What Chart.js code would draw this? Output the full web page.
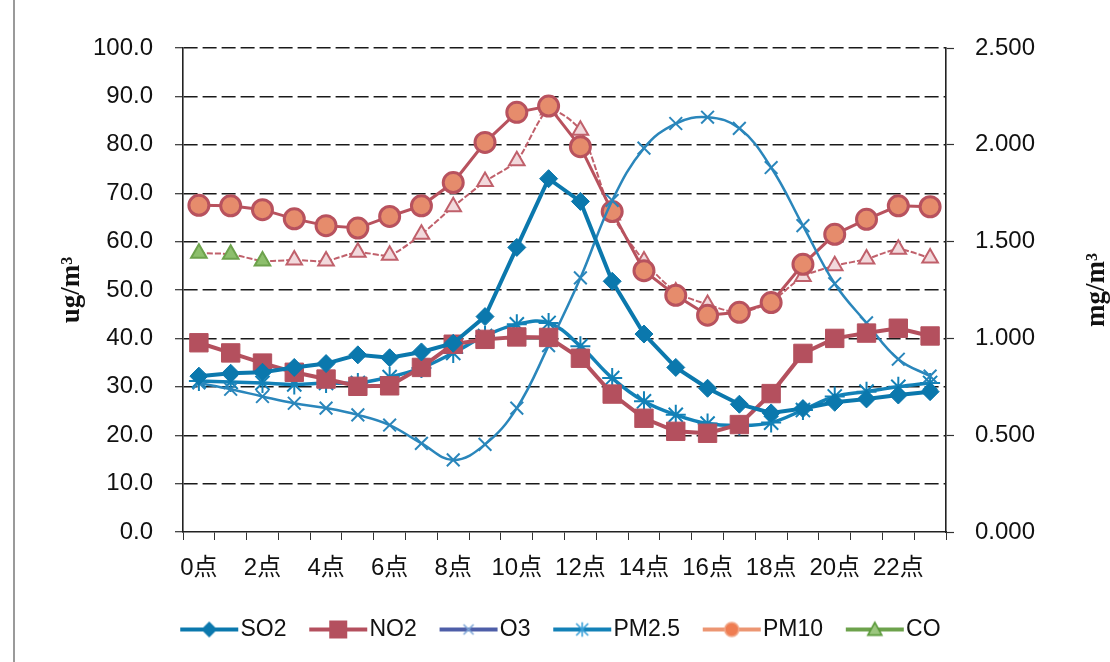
<!DOCTYPE html>
<html>
<head>
<meta charset="utf-8">
<script src="https://cdn.jsdelivr.net/npm/chart.js@4.4.1/dist/chart.umd.min.js"></script>
<style>
  html, body { margin: 0; padding: 0; background: #fff; }
  #wrap { width: 1110px; height: 662px; position: relative; }
</style>
</head>
<body>
<div id="wrap"><canvas id="c" width="1110" height="662"></canvas></div>
<script>
// Hourly concentrations, 0点 .. 23点
const HOURS = ['0点','1点','2点','3点','4点','5点','6点','7点','8点','9点','10点','11点',
               '12点','13点','14点','15点','16点','17点','18点','19点','20点','21点','22点','23点'];

// ug/m3 (left axis)
const SO2   = [32.2, 32.8, 33.0, 34.0, 34.8, 36.6, 36.0, 37.2, 39.0, 44.5, 58.8, 73.0,
               68.3, 51.8, 40.9, 34.0, 29.7, 26.4, 24.6, 25.5, 26.8, 27.5, 28.3, 29.0];
const NO2   = [39.1, 37.0, 34.9, 33.0, 31.6, 30.1, 30.2, 34.0, 38.8, 39.8, 40.3, 40.2,
               35.9, 28.5, 23.5, 20.8, 20.4, 22.2, 28.6, 36.9, 40.0, 41.1, 42.1, 40.5];
const O3    = [30.8, 29.5, 28.0, 26.6, 25.6, 24.2, 22.1, 18.3, 14.9, 18.1, 25.6, 38.5,
               52.5, 68.5, 79.3, 84.4, 85.7, 83.4, 75.3, 63.3, 51.3, 43.2, 35.7, 32.2];
const PM25  = [31.2, 31.0, 30.8, 30.5, 30.8, 30.8, 32.0, 33.9, 37.0, 40.5, 42.9, 43.2,
               38.4, 31.8, 27.0, 24.2, 22.4, 22.0, 22.6, 25.2, 28.0, 29.0, 30.0, 30.8];
const PM10  = [67.5, 67.4, 66.6, 64.7, 63.3, 62.8, 65.2, 67.4, 72.2, 80.5, 86.7, 88.0,
               79.6, 66.2, 54.0, 48.9, 44.8, 45.4, 47.4, 55.3, 61.5, 64.6, 67.4, 67.2];
// mg/m3 (right axis)
const CO    = [1.440, 1.435, 1.400, 1.405, 1.400, 1.445, 1.430, 1.538, 1.680, 1.810, 1.918, 2.180,
               2.075, 1.638, 1.400, 1.240, 1.175, 1.133, 1.190, 1.320, 1.375, 1.410, 1.460, 1.415];

const LEFT_TICKS  = { min: 0, max: 100, step: 10 };
const RIGHT_TICKS = { min: 0, max: 2.5, step: 0.5 };

const FONT = '"Liberation Sans", "Noto Sans CJK SC", Arial, sans-serif';

// Small line-with-marker swatches for the legend
function drawShape(g, style, cx, cy, r) {
  g.beginPath();
  if (style === 'diamond') {
    g.moveTo(cx, cy - r); g.lineTo(cx + r, cy); g.lineTo(cx, cy + r); g.lineTo(cx - r, cy); g.closePath();
    g.fill();
  } else if (style === 'square') {
    g.rect(cx - r, cy - r, 2 * r, 2 * r); g.fill();
  } else if (style === 'circle') {
    g.arc(cx, cy, r, 0, Math.PI * 2); g.fill(); g.stroke();
  } else if (style === 'triangle') {
    g.moveTo(cx, cy - r); g.lineTo(cx + r, cy + r * 0.8); g.lineTo(cx - r, cy + r * 0.8); g.closePath();
    g.fill(); g.stroke();
  } else if (style === 'cross') {
    g.moveTo(cx - r, cy - r); g.lineTo(cx + r, cy + r);
    g.moveTo(cx + r, cy - r); g.lineTo(cx - r, cy + r); g.stroke();
  } else if (style === 'star') {
    g.moveTo(cx - r, cy - r); g.lineTo(cx + r, cy + r);
    g.moveTo(cx + r, cy - r); g.lineTo(cx - r, cy + r);
    g.moveTo(cx, cy - r * 1.2); g.lineTo(cx, cy + r * 1.2); g.stroke();
  }
}
function legendIcon(lineColor, style, fill, stroke, r) {
  const c = document.createElement('canvas');
  c.width = 80; c.height = 26;
  const g = c.getContext('2d');
  const x0 = 21, x1 = 79, cy = 13, cx = 50;
  g.strokeStyle = lineColor; g.lineWidth = 4;
  g.beginPath(); g.moveTo(x0, cy); g.lineTo(x1, cy); g.stroke();
  g.fillStyle = fill; g.strokeStyle = stroke; g.lineWidth = 1.6;
  drawShape(g, style, cx, cy, r);
  return c;
}
const LEGEND_ICONS = [
  legendIcon('#0b78ad', 'diamond', '#0b78ad', '#0b78ad', 8),
  legendIcon('#b4505e', 'square', '#b4505e', '#b4505e', 9),
  legendIcon('#4e5ea8', 'cross', '#4e5ea8', '#7fa6d6', 5),
  legendIcon('#1381b7', 'star', '#1381b7', '#3aa0d8', 6),
  legendIcon('#ec9673', 'circle', '#ef7d52', '#f1a88a', 7),
  legendIcon('#6da24c', 'triangle', '#9cc77f', '#5a9a3a', 7)
];

// Page frame, background and rotated unit titles
const frame = {
  id: 'frame',
  beforeDraw(chart) {
    const { ctx, width, height } = chart;
    ctx.save();
    ctx.fillStyle = '#fff';
    ctx.fillRect(0, 0, width, height);
    ctx.strokeStyle = '#9a9a9a';
    ctx.lineWidth = 2;
    ctx.beginPath(); ctx.moveTo(14, 0); ctx.lineTo(14, height); ctx.stroke();
    ctx.restore();
  },
  afterDraw(chart) {
    const { ctx, chartArea } = chart;
    const midY = (chartArea.top + chartArea.bottom) / 2;
    ctx.save();
    ctx.fillStyle = '#111';
    ctx.font = 'bold 27px "Liberation Serif", "DejaVu Serif", serif';
    ctx.textAlign = 'center';
    ctx.textBaseline = 'middle';
    [[72, 'ug/m³'], [1097, 'mg/m³']].forEach(([x, t]) => {
      ctx.save();
      ctx.translate(x, midY);
      ctx.rotate(-Math.PI / 2);
      ctx.fillText(t, 0, 0);
      ctx.restore();
    });
    ctx.restore();
  }
};

const COLORS = {
  so2: '#0b78ad', no2: '#b4505e', o3: '#2a86bb', pm25: '#1381b7',
  pm10: '#b8525e', pm10Fill: '#e68c6c', co: '#c0606b', coFill: '#f2d9dc', coEarly: '#6da24c'
};

const chart = new Chart(document.getElementById('c'), {
  type: 'line',
  data: {
    labels: HOURS,
    datasets: [
      { label: 'SO2', data: SO2, yAxisID: 'y', borderColor: COLORS.so2, backgroundColor: COLORS.so2,
        borderWidth: 4, pointStyle: 'rectRot', pointRadius: 9, pointBorderWidth: 1, tension: 0 },
      { label: 'NO2', data: NO2, yAxisID: 'y', borderColor: COLORS.no2, backgroundColor: COLORS.no2,
        borderWidth: 4, pointStyle: 'rect', pointRadius: 13, pointBorderWidth: 1, tension: 0 },
      { label: 'O3', data: O3, yAxisID: 'y', borderColor: COLORS.o3, backgroundColor: COLORS.o3,
        borderWidth: 2.5, pointStyle: 'crossRot', pointRadius: 9, pointBorderWidth: 2, tension: 0.4 },
      { label: 'PM2.5', data: PM25, yAxisID: 'y', borderColor: COLORS.pm25, backgroundColor: COLORS.pm25,
        borderWidth: 3.5, pointStyle: 'star', pointRadius: 10, pointBorderWidth: 2, tension: 0.4 },
      { label: 'PM10', data: PM10, yAxisID: 'y', borderColor: COLORS.pm10, backgroundColor: COLORS.pm10Fill,
        pointBorderColor: COLORS.pm10, pointBackgroundColor: COLORS.pm10Fill,
        borderWidth: 3, pointStyle: 'circle', pointRadius: 10, pointBorderWidth: 3, tension: 0 },
      { label: 'CO', data: CO, yAxisID: 'y1', borderColor: COLORS.co, backgroundColor: COLORS.coFill,
        borderWidth: 2, borderDash: [6, 2],
        pointBorderColor: (c) => c.dataIndex < 3 ? COLORS.coEarly : COLORS.co,
        pointBackgroundColor: (c) => c.dataIndex < 3 ? '#8dbf6c' : COLORS.coFill,
        pointStyle: 'triangle', pointRadius: 9, pointBorderWidth: 2, tension: 0.25 }
    ]
  },
  options: {
    responsive: false,
    devicePixelRatio: 1,
    animation: false,
    layout: { padding: { top: 48, bottom: 11, left: 0, right: 0 } },
    font: { family: FONT },
    plugins: {
      tooltip: { enabled: false },
      legend: {
        position: 'bottom',
        align: 'center',
        labels: {
          usePointStyle: true,
          pointStyleWidth: 59.5,
          padding: 12,
          color: '#111',
          font: { family: FONT, size: 23 },
          generateLabels: (ch) => ch.data.datasets.map((ds, i) => ({
            text: ds.label,
            pointStyle: LEGEND_ICONS[i],
            fillStyle: 'transparent',
            strokeStyle: 'transparent',
            lineWidth: 0,
            fontColor: '#111',
            hidden: false,
            datasetIndex: i
          }))
        }
      }
    },
    scales: {
      x: {
        offset: true,
        afterFit: (s) => { s.height = 74; },
        grid: { offset: true, drawOnChartArea: false, drawTicks: true, tickLength: 8,
                color: '#333', tickColor: '#333', lineWidth: 1 },
        border: { display: true, color: '#222', width: 1.5 },
        ticks: {
          autoSkip: false, maxRotation: 0, padding: 14, color: '#111',
          font: { family: FONT, size: 24 },
          callback: (v, i) => (i % 2 === 0 ? HOURS[i] : '')
        }
      },
      y: {
        position: 'left',
        min: LEFT_TICKS.min, max: LEFT_TICKS.max,
        afterFit: (s) => { s.width = 183; },
        grid: {
          drawOnChartArea: true, tickLength: 8, lineWidth: 1.4,
          color: (c) => (c.tick && c.tick.value === 0 ? 'rgba(0,0,0,0)' : '#1a1a1a'),
          tickColor: '#333', tickWidth: 1.2
        },
        border: { display: true, color: '#222', width: 1.6, dash: [14, 5] },
        ticks: {
          stepSize: LEFT_TICKS.step, padding: 22, color: '#111',
          font: { family: FONT, size: 24 },
          callback: (v) => Number(v).toFixed(1)
        }
      },
      y1: {
        position: 'right',
        min: RIGHT_TICKS.min, max: RIGHT_TICKS.max,
        afterFit: (s) => { s.width = 164; },
        grid: { drawOnChartArea: false, tickLength: 8, tickColor: '#333', tickWidth: 1.2 },
        border: { display: true, color: '#222', width: 1.6 },
        ticks: {
          stepSize: RIGHT_TICKS.step, padding: 21, color: '#111',
          font: { family: FONT, size: 24 },
          callback: (v) => Number(v).toFixed(3)
        }
      }
    }
  },
  plugins: [frame]
});
</script>
</body>
</html>
